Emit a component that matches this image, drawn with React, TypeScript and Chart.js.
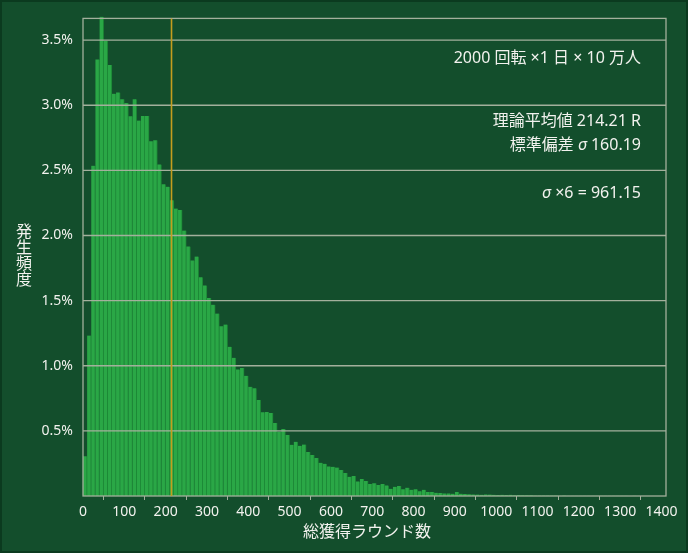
import React, { useEffect, useRef } from "react";
import { Chart, registerables } from "chart.js";

Chart.register(...registerables);

// 10-round bins starting at 0, 10, 20, ... ; values in percent
const binWidth = 10;
const frequencies: number[] = [
  0.306, 1.232, 2.536, 3.352, 3.68, 3.495, 3.309, 3.089, 3.099, 3.046,
  3.018, 2.916, 3.046, 2.883, 2.918, 2.918, 2.724, 2.732, 2.546, 2.393,
  2.375, 2.27, 2.207, 2.196, 2.038, 1.916, 1.809, 1.839, 1.679, 1.617,
  1.52, 1.469, 1.401, 1.304, 1.316, 1.145, 1.061, 0.972, 0.982, 0.923,
  0.839, 0.827, 0.737, 0.643, 0.645, 0.638, 0.561, 0.495, 0.515, 0.469,
  0.393, 0.416, 0.385, 0.395, 0.337, 0.314, 0.291, 0.255, 0.247, 0.227,
  0.224, 0.219, 0.199, 0.176, 0.148, 0.153, 0.112, 0.13, 0.115, 0.092,
  0.097, 0.084, 0.092, 0.081, 0.056, 0.071, 0.076, 0.051, 0.064, 0.048,
  0.051, 0.036, 0.048, 0.031, 0.031, 0.025, 0.023, 0.02, 0.02, 0.018,
  0.031, 0.018, 0.015, 0.013, 0.012, 0.011, 0.01, 0.012, 0.011, 0.009,
  0.008, 0.009, 0.007, 0.009, 0.006, 0.007, 0.005, 0.006, 0.005, 0.004,
  0.004, 0.003, 0.004, 0.003, 0.003, 0.002, 0.003, 0.002, 0.002, 0.002,
  0.002, 0.001, 0.002, 0.001, 0.001, 0.001, 0.001, 0.001, 0.001, 0.001,
  0.001, 0.001, 0.0005, 0.001, 0.0005, 0.0005, 0.0005, 0, 0.0005, 0, 0,
];
const meanValue = 214.21;
const yGridValues: number[] = [0.5, 1.0, 1.5, 2.0, 2.5, 3.0, 3.5];
const xTitle = "総獲得ラウンド数";
const yTitleChars: string[] = ["発", "生", "頻", "度"];
const noteLines: string[] = [
  "2000 回転 ×1 日 × 10 万人",
  "理論平均値 214.21 R",
  "標準偏差 σ 160.19",
  "σ ×6 = 961.15",
];

const BG = "#134e2c";
const GRID = "#a3b09c";
const TEXT = "#f2f2ee";
const FONT = "'Noto Sans', 'Noto Sans CJK JP', sans-serif";

// draw a line right-aligned, with every σ in italic
function drawNote(ctx: any, text: string, right: number, y: number, size: number) {
  const parts: { t: string; it: boolean }[] = [];
  let buf = "";
  for (const ch of text) {
    if (ch === "σ") {
      if (buf) parts.push({ t: buf, it: false });
      parts.push({ t: ch, it: true });
      buf = "";
    } else buf += ch;
  }
  if (buf) parts.push({ t: buf, it: false });
  const fontOf = (it: boolean) => `${it ? "italic " : ""}${size}px ${FONT}`;
  let total = 0;
  const widths = parts.map((p) => {
    ctx.font = fontOf(p.it);
    const w = ctx.measureText(p.t).width;
    total += w;
    return w;
  });
  let x = right - total;
  ctx.textAlign = "left";
  parts.forEach((p, i) => {
    ctx.font = fontOf(p.it);
    ctx.fillText(p.t, x, y);
    x += widths[i];
  });
}

const overlayPlugin = {
  id: "overlay",
  beforeDraw(chart: any) {
    const { ctx, width, height } = chart;
    ctx.save();
    ctx.fillStyle = BG;
    ctx.fillRect(0, 0, width, height);
    ctx.strokeStyle = "#0b3a1f";
    ctx.lineWidth = 2;
    ctx.strokeRect(1, 1, width - 2, height - 2);
    ctx.restore();
  },
  afterDatasetsDraw(chart: any) {
    const { ctx, chartArea } = chart;
    const y = chart.scales.y;
    const x = chart.scales.x;
    ctx.save();
    ctx.strokeStyle = GRID;
    ctx.lineWidth = 1.3;
    yGridValues.forEach((v) => {
      const py = y.getPixelForValue(v);
      ctx.beginPath();
      ctx.moveTo(chartArea.left, py);
      ctx.lineTo(chartArea.right, py);
      ctx.stroke();
    });
    ctx.strokeRect(
      chartArea.left,
      chartArea.top,
      chartArea.right - chartArea.left,
      chartArea.bottom - chartArea.top
    );
    const mx = x.getPixelForValue(meanValue);
    ctx.strokeStyle = "#c49d1e";
    ctx.lineWidth = 1.6;
    ctx.beginPath();
    ctx.moveTo(mx, chartArea.top);
    ctx.lineTo(mx, chartArea.bottom);
    ctx.stroke();
    ctx.restore();
  },
  afterDraw(chart: any) {
    const { ctx } = chart;
    ctx.save();
    ctx.fillStyle = TEXT;
    ctx.textBaseline = "middle";
    const noteY = [58, 121, 145, 193];
    noteLines.forEach((t, i) => drawNote(ctx, t, 641, noteY[i], 16));
    // x title
    ctx.font = `16px ${FONT}`;
    ctx.textAlign = "center";
    ctx.fillText(xTitle, 367, 532);
    // y title (stacked)
    yTitleChars.forEach((c, i) => ctx.fillText(c, 24, 232 + i * 16.3));
    ctx.restore();
  },
};

export default function App() {
  const ref = useRef<HTMLCanvasElement | null>(null);
  useEffect(() => {
    document.body.style.margin = "0";
    const canvas = ref.current;
    if (!canvas) return;
    const data = frequencies.map((v, i) => ({ x: i * binWidth + binWidth / 2, y: v }));
    const chart = new Chart(canvas, {
      type: "bar",
      data: {
        datasets: [
          {
            data: data as any,
            backgroundColor: "#2aa746",
            borderColor: "#1b8234",
            borderWidth: { left: 0, right: 1, top: 0, bottom: 0 } as any,
            borderSkipped: false,
            barPercentage: 1,
            categoryPercentage: 1,
            clip: false as any,
          },
        ],
      },
      options: {
        responsive: false,
        animation: false,
        devicePixelRatio: 1,
        layout: { padding: { left: 0, top: 16, right: 22, bottom: 0 } },
        plugins: { legend: { display: false }, tooltip: { enabled: false } },
        scales: {
          x: {
            type: "linear",
            min: 0,
            max: 1411,
            offset: false,
            afterFit: (s: any) => {
              s.height = 57;
            },
            grid: {
              display: true,
              drawOnChartArea: false,
              drawTicks: true,
              tickLength: 4,
              color: GRID,
            },
            border: { display: false },
            ticks: {
              stepSize: 100,
              includeBounds: false,
              autoSkip: false,
              maxRotation: 0,
              padding: 4,
              color: TEXT,
              font: { family: FONT, size: 14 },
              callback: (v: any) => String(v),
            },
          },
          y: {
            min: 0,
            max: 3.667,
            afterFit: (s: any) => {
              s.width = 83;
            },
            grid: { display: false, drawTicks: false },
            border: { display: false },
            ticks: {
              stepSize: 0.5,
              includeBounds: false,
              padding: 10,
              color: TEXT,
              font: { family: FONT, size: 14 },
              callback: (v: any) => {
                const n = Number(v);
                if (n <= 0) return "";
                return n.toFixed(1) + "%";
              },
            },
          },
        },
      },
      plugins: [overlayPlugin],
    });
    return () => chart.destroy();
  }, []);
  return (
    <div style={{ width: 688, height: 553 }}>
      <canvas ref={ref} width={688} height={553} style={{ width: 688, height: 553, display: "block" }} />
    </div>
  );
}
